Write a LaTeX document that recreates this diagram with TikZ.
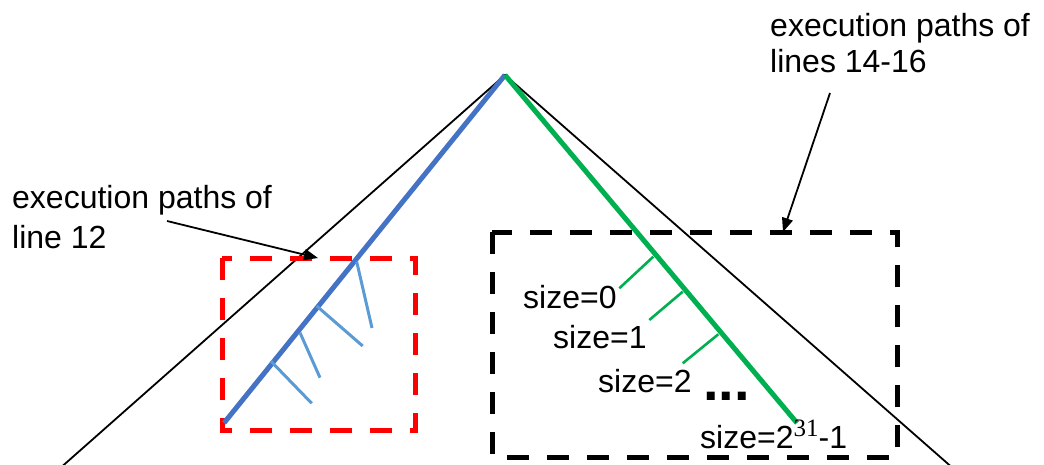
\documentclass[tikz,border=0pt]{standalone}
\usepackage{fontspec}
\setmainfont{Liberation Sans}
\newfontfamily\supfont{Liberation Serif}
\usetikzlibrary{arrows.meta}
\definecolor{mainblue}{HTML}{4472C4}
\definecolor{lightblue}{HTML}{5B9BD5}
\definecolor{mgreen}{HTML}{00B050}
\newcommand{\supnum}[1]{{\supfont\fontsize{25}{25}\selectfont\raisebox{12pt}{#1}}}
\tikzset{
  tri/.style={black, line width=1.8pt},
  bluemain/.style={mainblue, line width=5pt},
  bluebr/.style={lightblue, line width=3pt},
  greenmain/.style={mgreen, line width=5pt},
  greenbr/.style={mgreen, line width=2.6pt},
  dbox/.style={line width=5pt, dash pattern=on 22pt off 18pt},
  lbl/.style={inner sep=0pt, font=\fontsize{32}{36}\selectfont},
  callout/.style={black, line width=1.8pt, -{Triangle[length=14pt,width=11pt]}}
}
\begin{document}
\begin{tikzpicture}[x=1pt,y=-1pt]
\useasboundingbox (0,0) rectangle (1044,464);
% apex and triangle
\coordinate (apex) at (505,75);
\coordinate (triL) at (58,470);
\coordinate (triR) at (955,470);
\draw[tri] (triL) -- (apex) -- (triR);
% boxes
\draw[dbox, red] (222,258) rectangle (415,430);
\draw[dbox, black] (492,232) rectangle (897,457);
% blue path
\coordinate (bEnd) at (224,423);
\draw[bluemain] (apex) -- (bEnd);
\coordinate (b1s) at (356.7,261.7); \coordinate (b1e) at (372,328);
\coordinate (b2s) at (316.7,306);   \coordinate (b2e) at (362.7,346);
\coordinate (b3s) at (300,332.7);   \coordinate (b3e) at (320,377.7);
\coordinate (b4s) at (270.7,361);   \coordinate (b4e) at (311.7,403.3);
\draw[bluebr] (b1s) -- (b1e);
\draw[bluebr] (b2s) -- (b2e);
\draw[bluebr] (b3s) -- (b3e);
\draw[bluebr] (b4s) -- (b4e);
% green path
\coordinate (gEnd) at (797,423);
\draw[greenmain] (apex) -- (gEnd);
\coordinate (g1s) at (653.3,256.7); \coordinate (g1e) at (619.3,288.3);
\coordinate (g2s) at (682.7,291.7); \coordinate (g2e) at (649.3,320);
\coordinate (g3s) at (718.3,334.3); \coordinate (g3e) at (682.7,363.3);
\draw[greenbr] (g1s) -- (g1e);
\draw[greenbr] (g2s) -- (g2e);
\draw[greenbr] (g3s) -- (g3e);
% labels
\node[lbl, anchor=base west] (s0) at (523,308) {size=0};
\node[lbl, anchor=base west] (s1) at (553,348) {size=1};
\node[lbl, anchor=base west] (s2) at (598,392) {size=2};
\node[inner sep=0pt, anchor=base west, font=\fontsize{56}{56}\selectfont\bfseries] (dots) at (703,400) {...};
\node[lbl, anchor=base west] (smax) at (700,448) {size=2\supnum{31}-1};
% callouts
\node[lbl, anchor=north west, align=left, font=\fontsize{32}{40}\selectfont] (tL) at (12,185) {execution paths of\\line 12};
\node[lbl, anchor=north west, align=left, font=\fontsize{32}{36}\selectfont] (tR) at (770,13) {execution paths of\\lines 14-16};
\coordinate (aLs) at (167,221);
\coordinate (aLe) at (318,258);
\coordinate (aRs) at (830,93);
\coordinate (aRe) at (783,232);
\draw[callout] (aLs) -- (aLe);
\draw[callout] (aRs) -- (aRe);
\end{tikzpicture}
\end{document}
